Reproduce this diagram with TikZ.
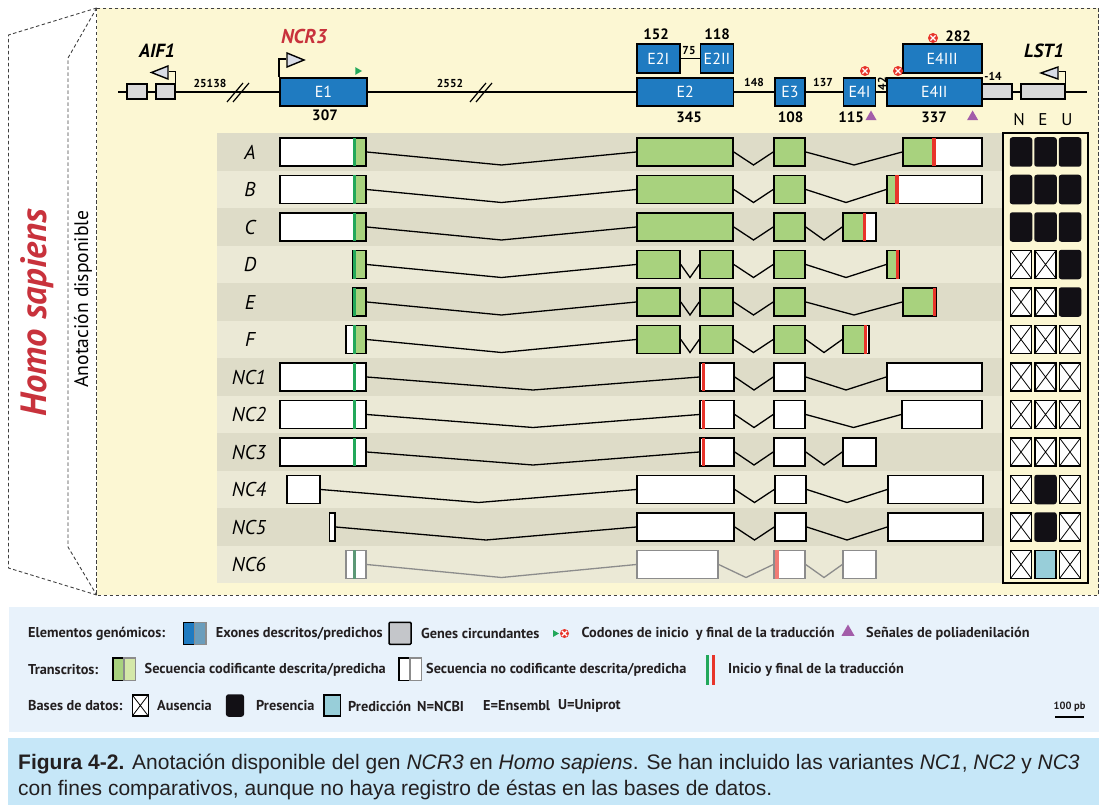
\documentclass[tikz,border=0pt]{standalone}
\usepackage{fontspec}
\setmainfont{PT Sans}
\newfontfamily\capfont{Liberation Sans}
\usetikzlibrary{calc, shapes.geometric}
\definecolor{panelYellow}{HTML}{FCF7D3}
\definecolor{rowDark}{HTML}{DEDCC8}
\definecolor{rowLight}{HTML}{EBE9D6}
\definecolor{exonBlue}{HTML}{1F7BC1}
\definecolor{exonPred}{HTML}{6A9DBC}
\definecolor{geneGrey}{HTML}{D9D9D9}
\definecolor{legGrey}{HTML}{C4C6CA}
\definecolor{promoGrey}{HTML}{D8DCE6}
\definecolor{cdsGreen}{HTML}{A8D27E}
\definecolor{cdsPred}{HTML}{D4E8A8}
\definecolor{startGreen}{HTML}{22A85A}
\definecolor{stopRed}{HTML}{E8342A}
\definecolor{dbBlack}{HTML}{121015}
\definecolor{dbPred}{HTML}{98CED9}
\definecolor{polyPurple}{HTML}{A35DA9}
\definecolor{titleRed}{HTML}{C8323C}
\definecolor{legendBlue}{HTML}{E8F2FB}
\definecolor{captionBlue}{HTML}{C6E7F8}
\definecolor{predGrey}{HTML}{8C8C8C}
\definecolor{capText}{HTML}{231F20}
\newcommand{\fsz}[1]{\fontsize{#1}{#1}\selectfont}
% ayudas para los transcritos
\newcommand{\txbox}[4][]{\node[txshape, minimum width={#4-#3}, #1] (#2) at ({(#3+#4)/2},\ry) {};}
\newcommand{\cdsfill}[2]{\fill[cdsGreen] (#1,\ry-13.2) rectangle (#2,\ry+13.2);}
\newcommand{\startmark}[2][startGreen]{\draw[#1, line width=3pt] (#2,\ry-14.3) -- (#2,\ry+14.3);}
\newcommand{\stopmark}[2][stopRed]{\draw[#1, line width=3.4pt] (#2,\ry-14.3) -- (#2,\ry+14.3);}
\newcommand{\intron}[3][black]{\draw[intronline, #1] (#2.east) -- ($(#2.east)!0.5!(#3.west)+(0,13)$) -- (#3.west);}

\begin{document}
\begin{tikzpicture}[x=1pt, y=-1pt,
    dashline/.style={draw=black!75, line width=0.9pt, dash pattern=on 3.5pt off 2.5pt},
    exonbox/.style={rectangle, draw, line width=1.8pt, fill=exonBlue, inner sep=0pt,
                    minimum height=28pt, text=white, font=\fsz{16}},
    flank/.style={rectangle, draw, line width=1.4pt, fill=geneGrey, inner sep=0pt, minimum height=15pt},
    promo/.style={draw, line width=1.4pt, fill=promoGrey, line join=miter},
    bent/.style={draw, line width=1.4pt},
    gname/.style={font=\bfseries\itshape\fsz{19}},
    bignum/.style={font=\bfseries\fsz{15}},
    smallnum/.style={font=\bfseries\fsz{11.5}},
    stopcodon/.style={circle, fill=stopRed, minimum size=10pt, inner sep=0pt,
      path picture={\draw[white, line width=1.2pt]
        ($(path picture bounding box.center)+(-2.6,-2.6)$) -- +(5.2,5.2)
        ($(path picture bounding box.center)+(-2.6,2.6)$) -- +(5.2,-5.2);}},
    startcodon/.style={regular polygon, regular polygon sides=3, shape border rotate=-90,
                       fill=startGreen, minimum size=9pt, inner sep=0pt},
    polya/.style={regular polygon, regular polygon sides=3, fill=polyPurple, minimum size=13pt, inner sep=0pt},
    rowlabel/.style={font=\itshape\fsz{20}},
    txshape/.style={rectangle, draw, line width=1.6pt, fill=white, inner sep=0pt, minimum height=28pt},
    intronline/.style={line width=1.3pt},
    predtx/.style={draw=predGrey, line width=1.4pt},
    dbcell/.style={rectangle, minimum width=21pt, minimum height=28pt, inner sep=0pt, line width=1.5pt},
    dbp/.style={fill=dbBlack, draw=dbBlack, rounded corners=2pt},
    dbq/.style={fill=dbPred, draw=black},
    dbx/.style={fill=white, draw=black,
      path picture={\draw[line width=0.8pt]
        (path picture bounding box.north west) -- (path picture bounding box.south east)
        (path picture bounding box.north east) -- (path picture bounding box.south west);}},
    legtext/.style={font=\bfseries\fsz{14.3}, text=capText, anchor=west, inner sep=0pt},
    legicon/.style={rectangle, minimum width=11.3pt, minimum height=22pt, inner sep=0pt, line width=1.5pt},
  ]
  \useasboundingbox (0,0) rectangle (1099,805);

  % Marco de la especie
  \draw[dashline] (96.7,8) -- (8.5,35) -- (8.5,568) -- (96.7,595);
  \draw[dashline] (96.7,8) -- (68,58) -- (68,547) -- (96.7,595);
  \draw[dashline, fill=panelYellow] (96.7,8) rectangle (1098.5,595);
  \node[rotate=90, font=\bfseries\itshape\fsz{36.5}, text=titleRed] (species) at (37,312.5) {Homo sapiens};
  \node[rotate=90, font=\fsz{19.6}] (annot) at (83,299) {Anotación disponible};

  % Bandas de los transcritos
  \foreach \i in {0,...,11}{
    \ifodd\i \def\bandcol{rowLight}\else \def\bandcol{rowDark}\fi
    \fill[\bandcol] (217,{133.25+37.5*\i}) rectangle (1003,{133.25+37.5*(\i+1)});
  }

  % Estructura genómica
  \coordinate (trackL) at (118,92);
  \coordinate (trackR) at (1087,92);
  \draw[line width=1.4pt] (trackL) -- (trackR);
  \foreach \sx in {239,482}{
    \draw[line width=1.2pt] (\sx-12,102) -- (\sx+4,83) (\sx-6,102) -- (\sx+10,83);
  }

  % AIF1
  \node[flank, minimum width=20pt] (aifA) at (137,91.5) {};
  \node[flank, minimum width=19pt] (aifB) at (165.5,91.5) {};
  \draw[bent] (aifB.north east) -- ++(0,-12) -- ++(-7,0);
  \draw[promo] (168,66) -- (151.5,72.5) -- (168,79) -- cycle;
  \node[gname] (aifName) at (157,51) {AIF1};
  \node[smallnum] (dist1) at (210,83) {25138};

  % NCR3
  \node[exonbox, minimum width=87pt] (e1) at (323.5,92) {E1};
  \draw[bent] (e1.north west) -- ++(0,-18) -- ++(7,0);
  \draw[promo] (287,53) -- (304,60) -- (287,67) -- cycle;
  \node[gname, text=titleRed, font=\bfseries\itshape\fsz{20}] (ncrName) at (304,37) {NCR3};
  \node[startcodon] (atg) at (357.5,71) {};
  \node[bignum] (len1) at (325,115.5) {307};
  \node[smallnum] (dist2) at (450,83) {2552};

  \node[exonbox, minimum width=96.5pt] (e2) at (685.2,92) {E2};
  \node[exonbox, minimum width=42.6pt, minimum height=29pt] (e2a) at (658.3,58.5) {E2I};
  \node[exonbox, minimum width=33pt, minimum height=29pt] (e2b) at (717,58.5) {E2II};
  \draw[line width=1.4pt] (e2a.east) -- (e2b.west);
  \node[smallnum] (gap2) at (689,51) {75};
  \node[bignum] (len2a) at (656,34) {152};
  \node[bignum] (len2b) at (717,34) {118};
  \node[bignum] (len2) at (689,117) {345};
  \node[smallnum] (dist3) at (754,82) {148};

  \node[exonbox, minimum width=30.5pt] (e3) at (790,92) {E3};
  \node[bignum] (len3) at (790.5,117) {108};
  \node[smallnum] (dist4) at (823,82) {137};

  \node[flank, minimum width=34pt] (lstA) at (995,91.5) {};
  \node[flank, minimum width=44pt] (lstB) at (1043,91.5) {};
  \node[exonbox, minimum width=32pt] (e4a) at (859.5,92) {E4I};
  \node[exonbox, minimum width=94.7pt] (e4b) at (934.3,92) {E4II};
  \node[exonbox, minimum width=79pt, minimum height=28.5pt] (e4c) at (942.2,58.5) {E4III};
  \node[smallnum, rotate=90] (gap4) at (882,84) {42};
  \node[stopcodon] (stopA) at (865,71) {};
  \node[stopcodon] (stopB) at (898,71) {};
  \node[stopcodon] (stopC) at (933,38) {};
  \node[bignum] (len4c) at (958,36) {282};
  \node[bignum] (len4a) at (851,117) {115};
  \node[polya] (polyA) at (871,117) {};
  \node[bignum] (len4b) at (934,117) {337};
  \node[polya] (polyB) at (972.6,117) {};
  \node[smallnum] (ovl) at (993,76) {-14};

  % LST1
  \draw[bent] (lstB.north east) -- ++(0,-12) -- ++(-7,0);
  \draw[promo] (1058,67) -- (1041,73) -- (1058,79) -- cycle;
  \node[gname] (lstName) at (1044,51) {LST1};

  % Cabecera de bases de datos
  \node[font=\fsz{17}] (hN) at (1019,119.5) {N};
  \node[font=\fsz{17}] (hE) at (1043,119.5) {E};
  \node[font=\fsz{17}] (hU) at (1067,119.5) {U};

  % Transcrito A
  \def\ry{152}
  \node[rowlabel] (lA) at (250,\ry) {A};
  \txbox{aE1}{280}{366}\cdsfill{353}{365.2}\startmark{354.5}
  \txbox[fill=cdsGreen]{aE2}{637}{733}
  \txbox[fill=cdsGreen]{aE3}{774}{805}
  \txbox{aE4}{903}{982}\cdsfill{903.8}{934}\stopmark{934}
  \intron{aE1}{aE2}\intron{aE2}{aE3}\intron{aE3}{aE4}

  % Transcrito B
  \def\ry{189.5}
  \node[rowlabel] (lB) at (250,\ry) {B};
  \txbox{bE1}{280}{366}\cdsfill{353}{365.2}\startmark{354.5}
  \txbox[fill=cdsGreen]{bE2}{637}{733}
  \txbox[fill=cdsGreen]{bE3}{774}{805}
  \txbox{bE4}{887}{982}\cdsfill{887.8}{897}\stopmark{897}
  \intron{bE1}{bE2}\intron{bE2}{bE3}\intron{bE3}{bE4}

  % Transcrito C
  \def\ry{227}
  \node[rowlabel] (lC) at (250,\ry) {C};
  \txbox{cE1}{280}{366}\cdsfill{353}{365.2}\startmark{354.5}
  \txbox[fill=cdsGreen]{cE2}{637}{733}
  \txbox[fill=cdsGreen]{cE3}{774}{805}
  \txbox{cE4}{843}{876}\cdsfill{843.8}{864.7}\stopmark{864.7}
  \intron{cE1}{cE2}\intron{cE2}{cE3}\intron{cE3}{cE4}

  % Transcrito D
  \def\ry{264.5}
  \node[rowlabel] (lD) at (250,\ry) {D};
  \txbox[fill=cdsGreen]{dE1}{353}{366}\startmark{354.5}
  \txbox[fill=cdsGreen]{dE2a}{637}{680}
  \txbox[fill=cdsGreen]{dE2b}{700}{733}
  \txbox[fill=cdsGreen]{dE3}{774}{805}
  \txbox[fill=cdsGreen]{dE4}{887}{899}\stopmark{897.6}
  \intron{dE1}{dE2a}\intron{dE2a}{dE2b}\intron{dE2b}{dE3}\intron{dE3}{dE4}

  % Transcrito E
  \def\ry{302}
  \node[rowlabel] (lE) at (250,\ry) {E};
  \txbox[fill=cdsGreen]{eE1}{353}{366}\startmark{354.5}
  \txbox[fill=cdsGreen]{eE2a}{637}{680}
  \txbox[fill=cdsGreen]{eE2b}{700}{733}
  \txbox[fill=cdsGreen]{eE3}{774}{805}
  \txbox[fill=cdsGreen]{eE4}{903}{936}\stopmark{934.4}
  \intron{eE1}{eE2a}\intron{eE2a}{eE2b}\intron{eE2b}{eE3}\intron{eE3}{eE4}

  % Transcrito F
  \def\ry{339.5}
  \node[rowlabel] (lF) at (250,\ry) {F};
  \txbox{fE1}{346}{366}\cdsfill{353}{365.2}\startmark{354.5}
  \txbox[fill=cdsGreen]{fE2a}{637}{680}
  \txbox[fill=cdsGreen]{fE2b}{700}{733}
  \txbox[fill=cdsGreen]{fE3}{774}{805}
  \txbox{fE4}{843}{869}\cdsfill{843.8}{865.5}\stopmark{865.2}
  \intron{fE1}{fE2a}\intron{fE2a}{fE2b}\intron{fE2b}{fE3}\intron{fE3}{fE4}

  % Transcritos NC1-NC3
  \def\ry{377}
  \node[rowlabel] (lNC1) at (249,\ry) {NC1};
  \txbox{n1E1}{280}{366}\startmark{354}
  \txbox{n1E2}{700}{734}\stopmark{703.3}
  \txbox{n1E3}{774}{805}
  \txbox{n1E4}{887}{982}
  \intron{n1E1}{n1E2}\intron{n1E2}{n1E3}\intron{n1E3}{n1E4}

  \def\ry{414.5}
  \node[rowlabel] (lNC2) at (249,\ry) {NC2};
  \txbox{n2E1}{280}{366}\startmark{354}
  \txbox{n2E2}{700}{734}\stopmark{703.3}
  \txbox{n2E3}{774}{805}
  \txbox{n2E4}{902}{982}
  \intron{n2E1}{n2E2}\intron{n2E2}{n2E3}\intron{n2E3}{n2E4}

  \def\ry{452}
  \node[rowlabel] (lNC3) at (249,\ry) {NC3};
  \txbox{n3E1}{280}{366}\startmark{354}
  \txbox{n3E2}{700}{734}\stopmark{703.3}
  \txbox{n3E3}{774}{805}
  \txbox{n3E4}{843}{876}
  \intron{n3E1}{n3E2}\intron{n3E2}{n3E3}\intron{n3E3}{n3E4}

  % Transcritos NC4-NC6
  \def\ry{489.5}
  \node[rowlabel] (lNC4) at (249,\ry) {NC4};
  \txbox{n4E1}{287}{320}
  \txbox{n4E2}{637}{734}
  \txbox{n4E3}{775}{806}
  \txbox{n4E4}{888}{983}
  \intron{n4E1}{n4E2}\intron{n4E2}{n4E3}\intron{n4E3}{n4E4}

  \def\ry{527}
  \node[rowlabel] (lNC5) at (249,\ry) {NC5};
  \txbox{n5E1}{329.5}{335}
  \txbox{n5E2}{637}{734}
  \txbox{n5E3}{775}{806}
  \txbox{n5E4}{888}{983}
  \intron{n5E1}{n5E2}\intron{n5E2}{n5E3}\intron{n5E3}{n5E4}

  \def\ry{564.5}
  \node[rowlabel] (lNC6) at (249,\ry) {NC6};
  \txbox[predtx]{n6E1}{346}{366}\startmark[startGreen!45!predGrey]{354.5}
  \txbox[predtx]{n6E2}{637}{718}
  \txbox[predtx]{n6E3}{774}{805}\stopmark[stopRed!65]{776.8}
  \txbox[predtx]{n6E4}{843}{876}
  \intron[predGrey]{n6E1}{n6E2}\intron[predGrey]{n6E2}{n6E3}\intron[predGrey]{n6E3}{n6E4}

  % Bases de datos
  \node[rectangle, draw, line width=2pt, fill=panelYellow, inner sep=0pt,
        minimum width=85pt, minimum height=450pt] (dbFrame) at (1045.5,358.3) {};
  \foreach \r/\cn/\ce/\cu in {0/p/p/p, 1/p/p/p, 2/p/p/p, 3/x/x/p, 4/x/x/p, 5/x/x/x,
                              6/x/x/x, 7/x/x/x, 8/x/x/x, 9/x/p/x, 10/x/p/x, 11/x/q/x}{
    \node[dbcell, db\cn] (db\r N) at (1021,{152+37.5*\r}) {};
    \node[dbcell, db\ce] (db\r E) at (1045.5,{152+37.5*\r}) {};
    \node[dbcell, db\cu] (db\r U) at (1070,{152+37.5*\r}) {};
  }

  % Leyenda
  \fill[legendBlue] (8.5,606.7) rectangle (1099,731.7);
  \node[legtext] (lgGen) at (28,633.5) {Elementos genómicos:};
  \node[legicon, fill=exonBlue, draw=black] (lgExD) at (189,633.3) {};
  \node[legicon, fill=exonPred, draw=predGrey] (lgExP) at (200.3,633.3) {};
  \node[legtext] (lgExT) at (215.7,633.5) {Exones descritos/predichos};
  \node[legicon, minimum width=22pt, fill=legGrey, draw=black, rounded corners=1pt] (lgFl) at (400,633.3) {};
  \node[legtext] (lgFlT) at (421,633.5) {Genes circundantes};
  \node[startcodon, minimum size=8pt] (lgAtg) at (555,633.5) {};
  \node[stopcodon, minimum size=9pt] (lgStop) at (564.5,633.5) {};
  \node[legtext] (lgCodT) at (581.5,633.5) {Codones de inicio \ y final de la traducción};
  \node[polya, minimum size=15pt] (lgPoly) at (848,632) {};
  \node[legtext] (lgPolyT) at (866,633.5) {Señales de poliadenilación};

  \node[legtext] (lgTx) at (28,670) {Transcritos:};
  \node[legicon, minimum height=22.6pt, fill=cdsGreen, draw=black] (lgCdD) at (118.4,669.4) {};
  \node[legicon, minimum height=22.6pt, fill=cdsPred, draw=predGrey] (lgCdP) at (129.7,669.4) {};
  \node[legtext] (lgCdT) at (144.5,670) {Secuencia codificante descrita/predicha};
  \node[legicon, minimum height=22.6pt, fill=white, draw=black] (lgNcD) at (404.5,669.4) {};
  \node[legicon, minimum height=22.6pt, fill=white, draw=predGrey] (lgNcP) at (415.8,669.4) {};
  \node[legtext] (lgNcT) at (426,670) {Secuencia no codificante descrita/predicha};
  \draw[startGreen, line width=3.5pt] (707.5,655) -- (707.5,685);
  \draw[stopRed, line width=3.5pt] (713.5,655) -- (713.5,685);
  \node[legtext] (lgMkT) at (728,670) {Inicio y final de la traducción};

  \node[legtext] (lgDb) at (28,706) {Bases de datos:};
  \node[dbcell, dbx, minimum width=16pt, minimum height=21pt] (lgAbs) at (140.3,705.5) {};
  \node[legtext] (lgAbsT) at (157,706) {Ausencia};
  \node[dbcell, dbp, minimum width=16.6pt, minimum height=21pt] (lgPres) at (235,705.5) {};
  \node[legtext] (lgPresT) at (256,706) {Presencia};
  \node[dbcell, dbq, minimum width=16.7pt, minimum height=21pt] (lgPred) at (332.3,705.5) {};
  \node[legtext] (lgPredT) at (348,706) {Predicción};
  \node[legtext] (lgN) at (417,706) {N=NCBI};
  \node[legtext] (lgE) at (483,706) {E=Ensembl};
  \node[legtext] (lgU) at (558,706) {U=Uniprot};
  \node[font=\bfseries\fsz{10.5}, text=capText] (scaleLbl) at (1069.5,707) {100 pb};
  \draw[line width=2pt] (1055,716.5) -- (1084,716.5);

  % Pie de figura
  \fill[captionBlue] (8,738) rectangle (1099,805);
  \node[anchor=north west, inner sep=0pt, align=left, text=capText,
        font=\capfont\fontsize{21}{26}\selectfont] (caption) at (18,754)
    {\textbf{Figura 4-2.} Anotación disponible del gen \textit{NCR3} en \textit{Homo sapiens}. Se han incluido las variantes \textit{NC1}, \textit{NC2} y \textit{NC3}\\
     con fines comparativos, aunque no haya registro de éstas en las bases de datos.};
\end{tikzpicture}
\end{document}
